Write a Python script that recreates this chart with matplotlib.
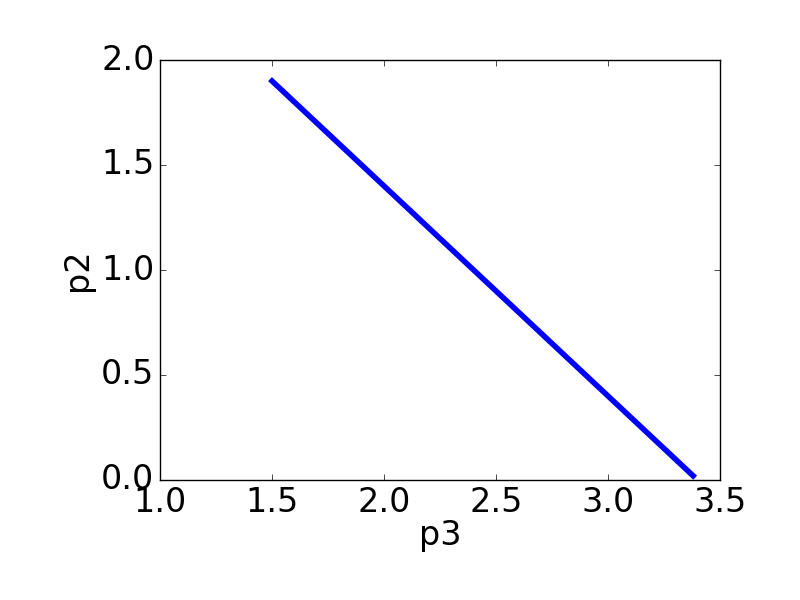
import matplotlib
matplotlib.use("Agg")
import matplotlib.pyplot as plt

plt.style.use("classic")

p3 = [1.5, 2.0, 2.5, 3.0, 3.38]
p2 = [1.9, 1.4, 0.9, 0.4, 0.02]

fig = plt.figure(figsize=(8, 6), dpi=100)
fig.patch.set_facecolor("white")
ax = fig.add_subplot(111)
fig.subplots_adjust(left=0.2, bottom=0.2, right=0.9, top=0.9)

ax.plot(p3, p2, color="blue", linewidth=4)
ax.set_xlim(1.0, 3.5)
ax.set_ylim(0.0, 2.0)
ax.set_xticks([1.0, 1.5, 2.0, 2.5, 3.0, 3.5])
ax.set_yticks([0.0, 0.5, 1.0, 1.5, 2.0])
ax.tick_params(labelsize=24)
ax.set_xlabel("p3", fontsize=24, labelpad=0)
ax.set_ylabel("p2", fontsize=24)

fig.savefig("out.png", dpi=100, facecolor="white")
